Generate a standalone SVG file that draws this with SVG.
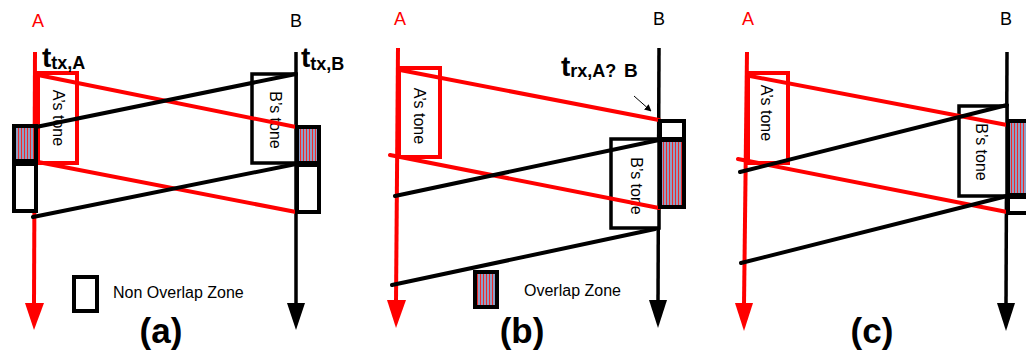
<svg xmlns="http://www.w3.org/2000/svg" width="1026" height="358" viewBox="0 0 1026 358">
<style>
.lbl{font-family:"Liberation Sans",Arial,sans-serif;font-size:18px}
.txt{font-family:"Liberation Sans",Arial,sans-serif;font-size:16px;fill:#000}
.cap{font-family:"Liberation Sans",Arial,sans-serif;font-size:35px;font-weight:bold;text-anchor:middle;fill:#000}
.tt{font-family:"Liberation Sans",Arial,sans-serif;font-weight:bold;fill:#000}
.axR{stroke:#ff0000;stroke-width:4;fill:none}
.axK{stroke:#000;stroke-width:3.5;fill:none}
.toneR{stroke:#ff0000;stroke-width:4;fill:#fff}
.toneK{stroke:#000;stroke-width:3.5;fill:#fff}
.hat{stroke:#000;stroke-width:4;fill:url(#hatch)}
.non{stroke:#000;stroke-width:4;fill:#fff}
.cR{stroke:#ff0000;stroke-width:4;fill:none;stroke-linecap:round}
.cK{stroke:#000;stroke-width:4;fill:none;stroke-linecap:round}
</style>
<defs>
<pattern id="hatch" width="3" height="4" patternUnits="userSpaceOnUse">
<rect width="3" height="4" fill="#8f9fc6"/>
<rect width="1" height="4" fill="#f02828"/>
</pattern>
<marker id="sm" viewBox="0 0 10 10" refX="9" refY="5" markerWidth="7" markerHeight="7" orient="auto" markerUnits="userSpaceOnUse">
<path d="M0,0 L10,5 L0,10 Z" fill="#000"/>
</marker>
</defs>
<rect width="1026" height="358" fill="#fff"/>

<!-- Panel (a) -->
<g id="a-nodeA">
<text class="lbl" x="38" y="27" text-anchor="middle" fill="#ff0000">A</text>
<line class="axR" x1="35" y1="52" x2="34" y2="304"/>
<polygon points="25,303 44,303 34,330" fill="#ff0000"/>
</g>
<g id="a-nodeB">
<text class="lbl" x="296" y="27" text-anchor="middle" fill="#000">B</text>
<line class="axK" x1="296" y1="52" x2="296" y2="304"/>
<polygon points="287,303 305,303 296,330" fill="#000"/>
</g>
<g id="a-toneA">
<rect class="toneR" x="38" y="73" width="39" height="90"/>
<text class="txt" transform="translate(58,118) rotate(90)" text-anchor="middle" y="5.5">A’s tone</text>
</g>
<g id="a-toneB">
<rect class="toneK" x="252" y="74" width="44" height="89"/>
<text class="txt" transform="translate(275,120) rotate(90)" text-anchor="middle" y="5.5">B’s tone</text>
</g>
<g id="a-label-tA">
<text class="tt" x="42" y="67"><tspan font-size="28">t</tspan><tspan font-size="18" dy="2">tx,A</tspan></text>
</g>
<g id="a-label-tB">
<text class="tt" x="301" y="67"><tspan font-size="28">t</tspan><tspan font-size="18" dy="3">tx,B</tspan></text>
</g>
<g id="a-connectors">
<line class="cR" x1="38" y1="75" x2="296" y2="127"/>
<line class="cR" x1="38" y1="162" x2="296" y2="212"/>
<line class="cK" x1="296" y1="74" x2="36" y2="127"/>
<line class="cK" x1="296" y1="164" x2="33" y2="217"/>
</g>
<g id="a-zones">
<rect class="hat" x="14" y="126" width="22" height="35"/>
<rect class="non" x="14" y="164" width="22" height="47"/>
<rect class="hat" x="297" y="127" width="22" height="36"/>
<rect class="non" x="297" y="165" width="22" height="47"/>
</g>
<g id="a-legend">
<rect class="non" x="74" y="277" width="23" height="34"/>
<text class="txt" x="113" y="298">Non Overlap Zone</text>
</g>
<text class="cap" x="161" y="343">(a)</text>

<!-- Panel (b) -->
<g id="b-nodeA">
<text class="lbl" x="400" y="25" text-anchor="middle" fill="#ff0000">A</text>
<line class="axR" x1="398" y1="48" x2="396" y2="302"/>
<polygon points="387,300 406,300 396,328" fill="#ff0000"/>
</g>
<g id="b-nodeB">
<text class="lbl" x="659" y="25" text-anchor="middle" fill="#000">B</text>
<line class="axK" x1="659" y1="48" x2="658" y2="302"/>
<polygon points="649,300 667,300 658,328" fill="#000"/>
</g>
<g id="b-toneA">
<rect class="toneR" x="399" y="68" width="41" height="89"/>
<text class="txt" transform="translate(419,116) rotate(90)" text-anchor="middle" y="5.5">A’s tone</text>
</g>
<g id="b-toneB">
<rect class="toneK" x="611" y="139" width="48" height="89"/>
<text class="txt" transform="translate(636,186) rotate(90)" text-anchor="middle" y="5.5">B’s tone</text>
</g>
<g id="b-label-t">
<text class="tt" x="561" y="76"><tspan font-size="28">t</tspan><tspan font-size="18" dy="1">rx,A?</tspan><tspan font-size="19" x="624">B</tspan></text>
</g>
<g id="b-connectors">
<line class="cR" x1="400" y1="70" x2="659" y2="120"/>
<line class="cR" x1="390" y1="155" x2="659" y2="208"/>
<line class="cK" x1="659" y1="140" x2="395" y2="196"/>
<line class="cK" x1="655" y1="229" x2="392" y2="285"/>
<line x1="634" y1="96" x2="651" y2="111" stroke="#000" stroke-width="1" marker-end="url(#sm)"/>
</g>
<g id="b-zones">
<rect class="non" x="660" y="121" width="24" height="18"/>
<rect class="hat" x="660" y="140" width="24" height="67"/>
</g>
<g id="b-legend">
<rect class="hat" x="475" y="272" width="22" height="35"/>
<text class="txt" x="524" y="296">Overlap Zone</text>
</g>
<text class="cap" x="522" y="343">(b)</text>

<!-- Panel (c) -->
<g id="c-nodeA">
<text class="lbl" x="748" y="25" text-anchor="middle" fill="#ff0000">A</text>
<line class="axR" x1="747" y1="52" x2="744" y2="305"/>
<polygon points="735,303 753,303 744,331" fill="#ff0000"/>
</g>
<g id="c-nodeB">
<text class="lbl" x="1006" y="25" text-anchor="middle" fill="#000">B</text>
<line class="axK" x1="1007" y1="52" x2="1006" y2="305"/>
<polygon points="997,303 1015,303 1006,331" fill="#000"/>
</g>
<g id="c-toneA">
<rect class="toneR" x="748" y="73" width="40" height="90"/>
<text class="txt" transform="translate(766,113) rotate(90)" text-anchor="middle" y="5.5">A’s tone</text>
</g>
<g id="c-toneB">
<rect class="toneK" x="959" y="106" width="48" height="90"/>
<text class="txt" transform="translate(981,152) rotate(90)" text-anchor="middle" y="5.5">B’s tone</text>
</g>
<g id="c-connectors">
<line class="cR" x1="750" y1="76" x2="1007" y2="125"/>
<line class="cR" x1="738" y1="159" x2="1007" y2="212"/>
<line class="cK" x1="1007" y1="105" x2="740" y2="172"/>
<line class="cK" x1="1007" y1="196" x2="741" y2="263"/>
</g>
<g id="c-zones">
<rect class="hat" x="1008" y="121" width="30" height="74"/>
<rect class="non" x="1008" y="197" width="30" height="16" stroke-width="2.5"/>
</g>
<text class="cap" x="872" y="343">(c)</text>
</svg>
